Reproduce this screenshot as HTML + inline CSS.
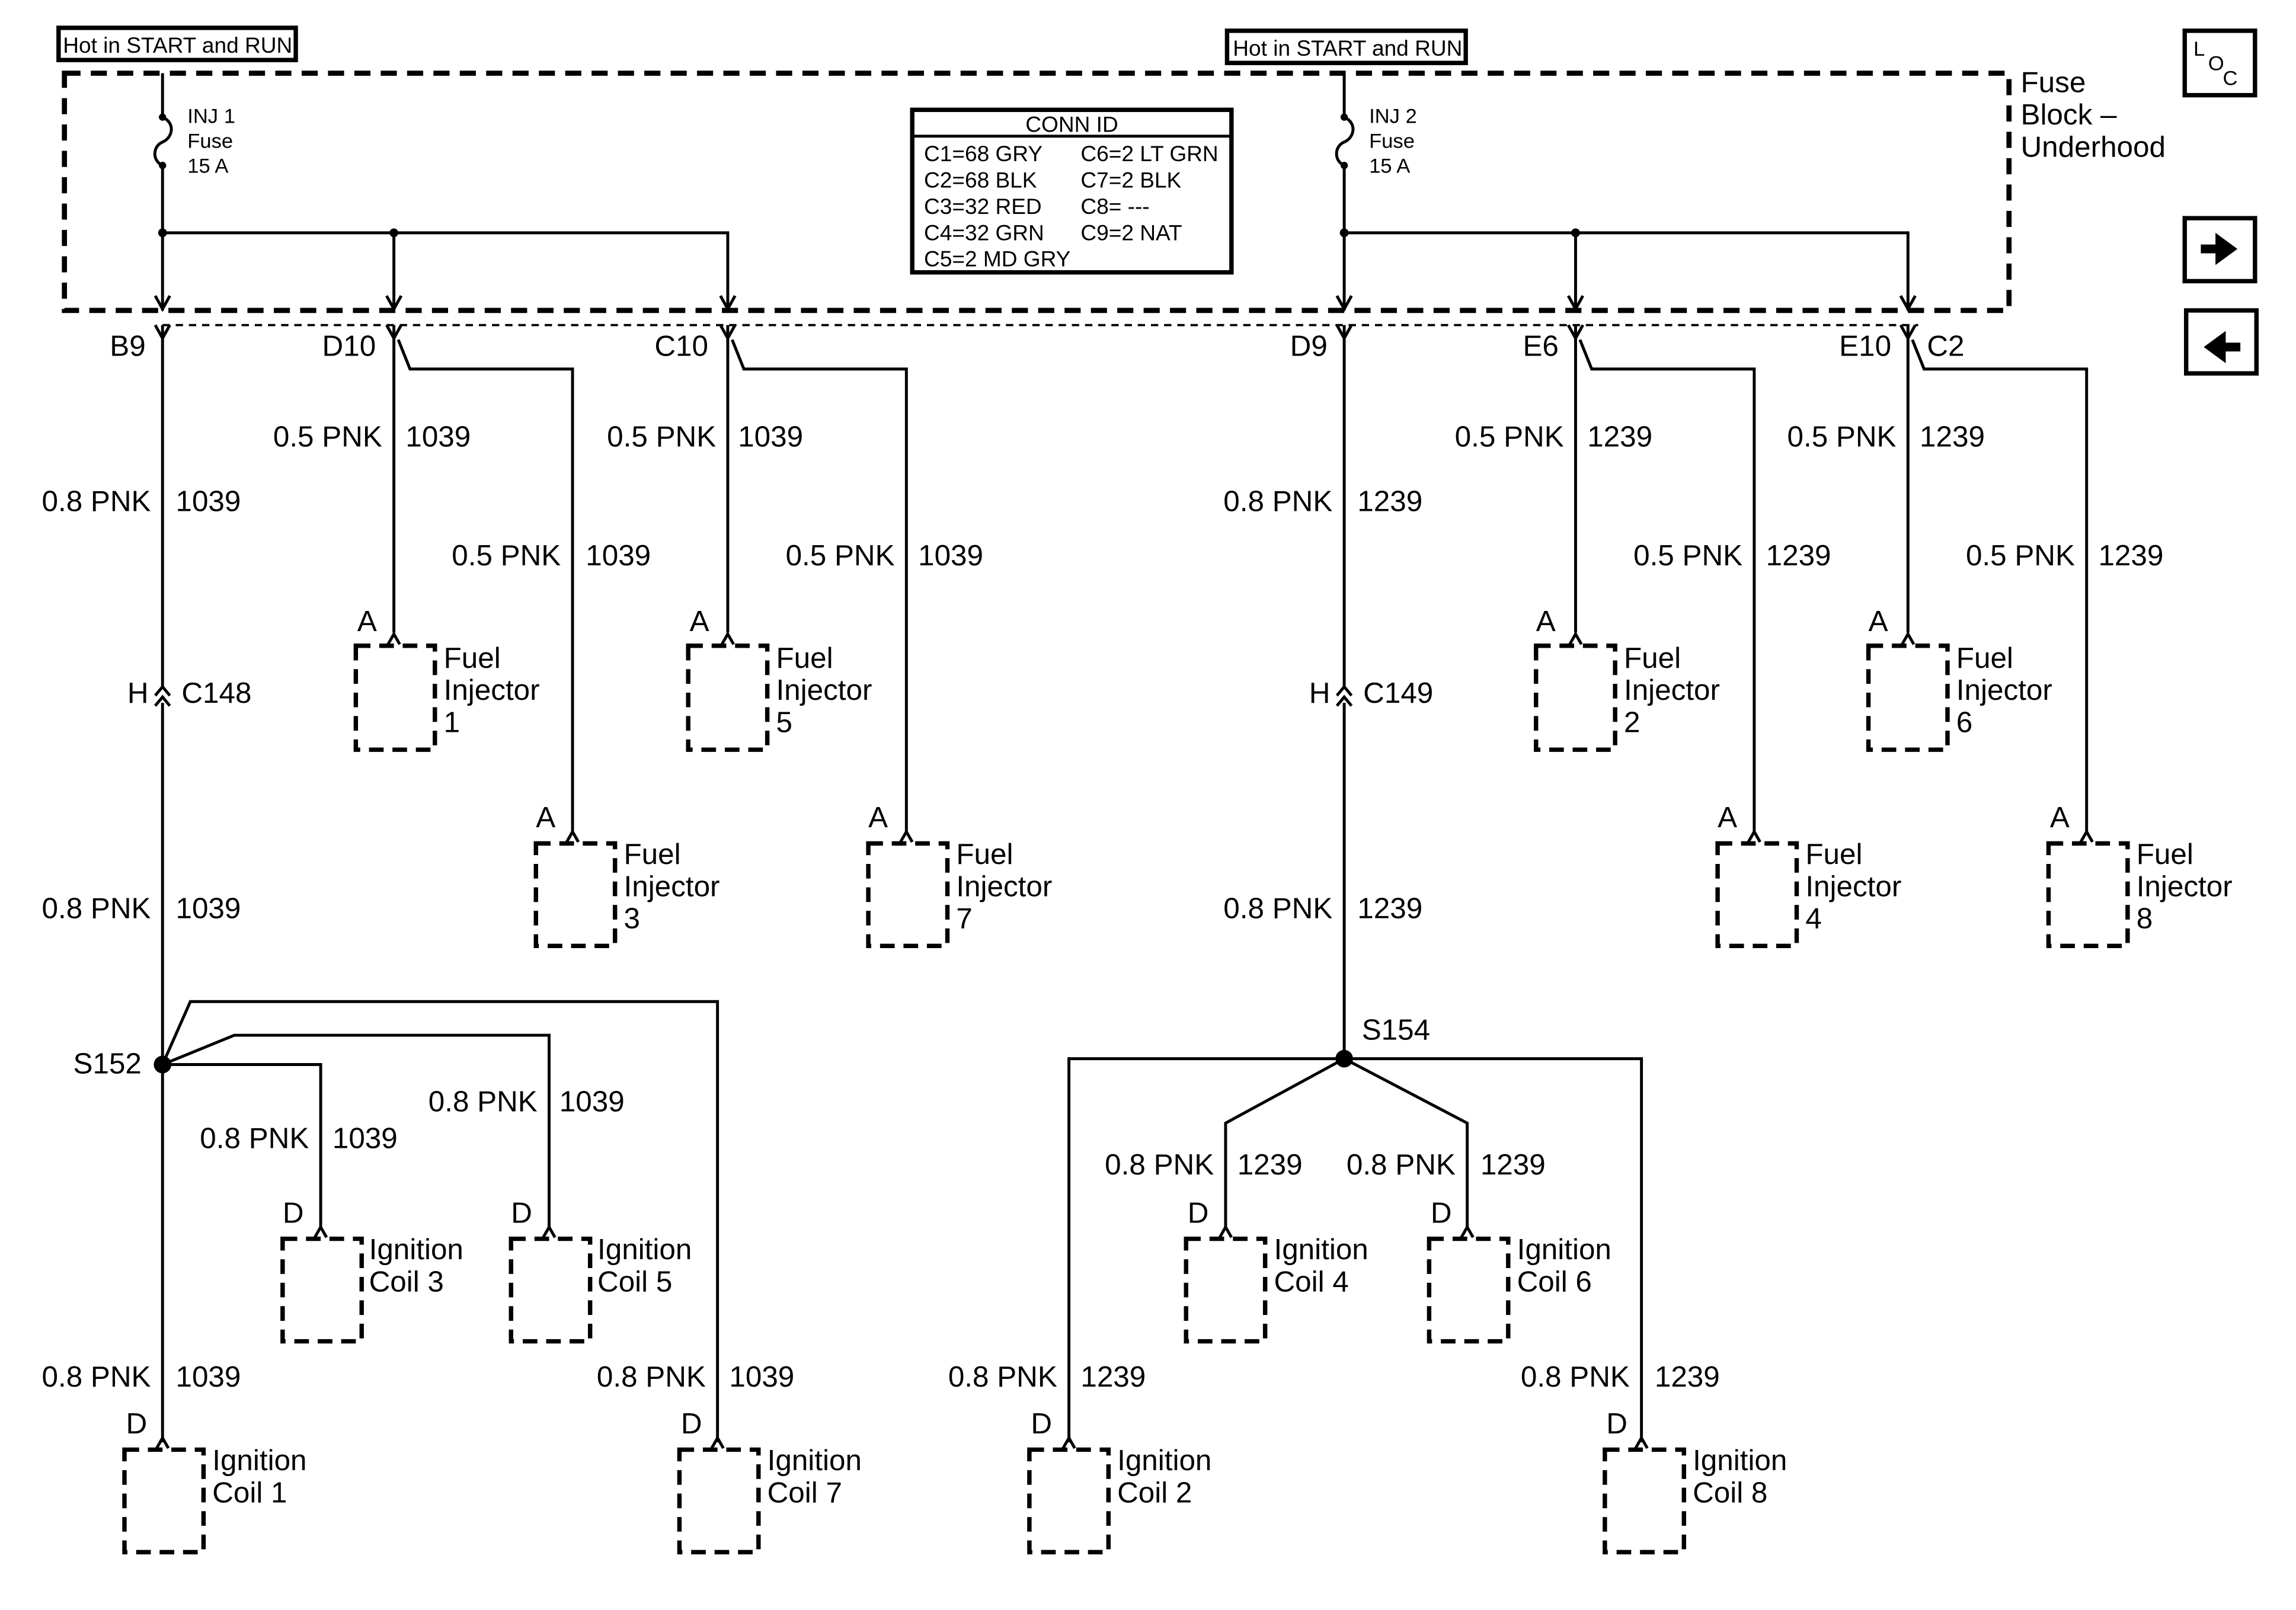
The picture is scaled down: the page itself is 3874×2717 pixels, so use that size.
<!DOCTYPE html>
<html><head><meta charset="utf-8"><style>
html,body{margin:0;padding:0;background:#fff;}
svg{display:block;}
text{font-family:"Liberation Sans",Arial,sans-serif;fill:#000;}
.l{font-size:20px;}
.s{font-size:14px;}
.h{font-size:15px;}
.e{text-anchor:end;}
</style></head><body>
<svg width="3874" height="2717" viewBox="0 0 1568 1099.5" preserveAspectRatio="none" xmlns="http://www.w3.org/2000/svg">
<defs>
<path id="fk" d="M-5,0 L0,9 L5,0" fill="none" stroke="#000" stroke-width="2"/>
<path id="bc" d="M-4,8 L0,1 L4,8" fill="none" stroke="#000" stroke-width="2"/>
<path id="da" d="M-5,-9 L0,0 L5,-9" fill="none" stroke="#000" stroke-width="2"/>
<path id="cc" d="M-5,6 L0,0 L5,6 M-5,13 L0,7 L5,13" fill="none" stroke="#000" stroke-width="2"/>
</defs>
<rect width="1568" height="1100" fill="#fff"/>
<g fill="none" stroke="#000">
<rect x="40" y="19" width="162" height="22" stroke-width="3"/>
<rect x="838" y="21" width="163" height="22" stroke-width="3"/>
<rect x="44" y="50" width="1328" height="162" stroke-width="3.5" stroke-dasharray="11,7"/>
<line x1="111" y1="222" x2="1310" y2="222" stroke-width="1.5" stroke-dasharray="5,4"/>
<rect x="623" y="75" width="218" height="111" stroke-width="3"/>
<line x1="623" y1="93" x2="841" y2="93" stroke-width="2"/>
<rect x="1492" y="21" width="48" height="44" stroke-width="3"/>
<rect x="1492" y="149" width="48" height="43" stroke-width="3"/>
<rect x="1493" y="212" width="48" height="43" stroke-width="3"/>
</g>
<path d="M1503,167 h10 v-8 l15,11 l-15,11 v-8 h-10z" fill="#000"/>
<path d="M1530,234 h-10 v-8 l-15,11 l15,11 v-8 h10z" fill="#000"/>
<text x="1498" y="38" class="s">L</text><text x="1508" y="48" class="s">O</text><text x="1518" y="58" class="s">C</text>

<text x="43" y="36" class="h">Hot in START and RUN</text>
<text x="842" y="38" class="h">Hot in START and RUN</text>
<text x="1380" y="63" class="l">Fuse</text>
<text x="1380" y="85" class="l">Block –</text>
<text x="1380" y="107" class="l">Underhood</text>
<text x="732" y="90" class="h" text-anchor="middle">CONN ID</text>
<text x="631" y="110" class="h">C1=68 GRY</text><text x="738" y="110" class="h">C6=2 LT GRN</text>
<text x="631" y="128" class="h">C2=68 BLK</text><text x="738" y="128" class="h">C7=2 BLK</text>
<text x="631" y="146" class="h">C3=32 RED</text><text x="738" y="146" class="h">C8= ---</text>
<text x="631" y="164" class="h">C4=32 GRN</text><text x="738" y="164" class="h">C9=2 NAT</text>
<text x="631" y="182" class="h">C5=2 MD GRY</text>

<g fill="none" stroke="#000" stroke-width="2">
<path d="M111,50 V80 C120,84 118,94 111,97 C104,100 104,110 111,113 V212"/>
<path d="M111,159 H497 V212 M269,159 V212"/>
<path d="M918,50 V80 C927,84 925,94 918,97 C911,100 911,110 918,113 V212"/>
<path d="M918,159 H1303 V212 M1076,159 V212"/>
<path d="M111,222 V470 M111,480 V727 V985"/>
<path d="M269,222 V432 M272,232 L280,252 H391 V568"/>
<path d="M497,222 V432 M500,232 L508,252 H619 V568"/>
<path d="M111,727 L130,684 H490 V985"/>
<path d="M111,727 L160,707 H375 V840"/>
<path d="M111,727 H219 V840"/>
<path d="M918,222 V470 M918,480 V723"/>
<path d="M1076,222 V432 M1079,232 L1087,252 H1198 V568"/>
<path d="M1303,222 V432 M1306,232 L1314,252 H1425 V568"/>
<path d="M730,985 V723 H1121 V985"/>
<path d="M918,723 L837,767 V840 M918,723 L1002,767 V840"/>
</g>
<g fill="#000">
<circle cx="111" cy="80" r="2.5"/><circle cx="111" cy="113" r="2.5"/>
<circle cx="918" cy="80" r="2.5"/><circle cx="918" cy="113" r="2.5"/>
<circle cx="111" cy="159" r="3"/><circle cx="269" cy="159" r="3"/>
<circle cx="918" cy="159" r="3"/><circle cx="1076" cy="159" r="3"/>
<circle cx="111" cy="727" r="6"/><circle cx="918" cy="723" r="6"/>
</g>
<use href="#da" x="111" y="211"/><use href="#da" x="269" y="211"/><use href="#da" x="497" y="211"/>
<use href="#da" x="918" y="211"/><use href="#da" x="1076" y="211"/><use href="#da" x="1303" y="211"/>
<use href="#fk" x="111" y="222"/><use href="#fk" x="269" y="222"/><use href="#fk" x="497" y="222"/>
<use href="#fk" x="918" y="222"/><use href="#fk" x="1076" y="222"/><use href="#fk" x="1303" y="222"/>
<use href="#cc" x="111" y="469"/><use href="#cc" x="918" y="469"/>
<use href="#bc" x="269" y="432"/><use href="#bc" x="497" y="432"/><use href="#bc" x="1076" y="432"/><use href="#bc" x="1303" y="432"/>
<use href="#bc" x="391" y="567"/><use href="#bc" x="619" y="567"/><use href="#bc" x="1198" y="567"/><use href="#bc" x="1425" y="567"/>
<use href="#bc" x="219" y="837"/><use href="#bc" x="375" y="837"/><use href="#bc" x="837" y="837"/><use href="#bc" x="1002" y="837"/>
<use href="#bc" x="111" y="981"/><use href="#bc" x="490" y="981"/><use href="#bc" x="730" y="981"/><use href="#bc" x="1121" y="981"/>

<g fill="none" stroke="#000" stroke-width="3" stroke-dasharray="10,6">
<rect x="243" y="441" width="54" height="71"/>
<rect x="470" y="441" width="54" height="71"/>
<rect x="1049" y="441" width="54" height="71"/>
<rect x="1276" y="441" width="54" height="71"/>
<rect x="366" y="576" width="54" height="70"/>
<rect x="593" y="576" width="54" height="70"/>
<rect x="1173" y="576" width="54" height="70"/>
<rect x="1399" y="576" width="54" height="70"/>
<rect x="193" y="846" width="54" height="70"/>
<rect x="349" y="846" width="54" height="70"/>
<rect x="810" y="846" width="54" height="70"/>
<rect x="976" y="846" width="54" height="70"/>
<rect x="85" y="990" width="54" height="70"/>
<rect x="464" y="990" width="54" height="70"/>
<rect x="703" y="990" width="54" height="70"/>
<rect x="1096" y="990" width="54" height="70"/>
</g>

<text x="128" y="84" class="s">INJ 1</text><text x="128" y="101" class="s">Fuse</text><text x="128" y="118" class="s">15 A</text>
<text x="935" y="84" class="s">INJ 2</text><text x="935" y="101" class="s">Fuse</text><text x="935" y="118" class="s">15 A</text>

<text x="75" y="243" class="l">B9</text><text x="220" y="243" class="l">D10</text><text x="447" y="243" class="l">C10</text>
<text x="881" y="243" class="l">D9</text><text x="1040" y="243" class="l">E6</text><text x="1256" y="243" class="l">E10</text><text x="1316" y="243" class="l">C2</text>
<text x="87" y="480" class="l">H</text><text x="124" y="480" class="l">C148</text>
<text x="894" y="480" class="l">H</text><text x="931" y="480" class="l">C149</text>
<text x="50" y="733" class="l">S152</text><text x="930" y="710" class="l">S154</text>

<text x="103" y="349" class="l e">0.8 PNK</text><text x="120" y="349" class="l">1039</text>
<text x="103" y="627" class="l e">0.8 PNK</text><text x="120" y="627" class="l">1039</text>
<text x="261" y="305" class="l e">0.5 PNK</text><text x="277" y="305" class="l">1039</text>
<text x="489" y="305" class="l e">0.5 PNK</text><text x="504" y="305" class="l">1039</text>
<text x="383" y="386" class="l e">0.5 PNK</text><text x="400" y="386" class="l">1039</text>
<text x="611" y="386" class="l e">0.5 PNK</text><text x="627" y="386" class="l">1039</text>
<text x="910" y="349" class="l e">0.8 PNK</text><text x="927" y="349" class="l">1239</text>
<text x="910" y="627" class="l e">0.8 PNK</text><text x="927" y="627" class="l">1239</text>
<text x="1068" y="305" class="l e">0.5 PNK</text><text x="1084" y="305" class="l">1239</text>
<text x="1295" y="305" class="l e">0.5 PNK</text><text x="1311" y="305" class="l">1239</text>
<text x="1190" y="386" class="l e">0.5 PNK</text><text x="1206" y="386" class="l">1239</text>
<text x="1417" y="386" class="l e">0.5 PNK</text><text x="1433" y="386" class="l">1239</text>
<text x="211" y="784" class="l e">0.8 PNK</text><text x="227" y="784" class="l">1039</text>
<text x="367" y="759" class="l e">0.8 PNK</text><text x="382" y="759" class="l">1039</text>
<text x="103" y="947" class="l e">0.8 PNK</text><text x="120" y="947" class="l">1039</text>
<text x="482" y="947" class="l e">0.8 PNK</text><text x="498" y="947" class="l">1039</text>
<text x="829" y="802" class="l e">0.8 PNK</text><text x="845" y="802" class="l">1239</text>
<text x="994" y="802" class="l e">0.8 PNK</text><text x="1011" y="802" class="l">1239</text>
<text x="722" y="947" class="l e">0.8 PNK</text><text x="738" y="947" class="l">1239</text>
<text x="1113" y="947" class="l e">0.8 PNK</text><text x="1130" y="947" class="l">1239</text>

<text x="244" y="431" class="l">A</text><text x="471" y="431" class="l">A</text><text x="1049" y="431" class="l">A</text><text x="1276" y="431" class="l">A</text>
<text x="366" y="565" class="l">A</text><text x="593" y="565" class="l">A</text><text x="1173" y="565" class="l">A</text><text x="1400" y="565" class="l">A</text>
<text x="193" y="835" class="l">D</text><text x="349" y="835" class="l">D</text><text x="811" y="835" class="l">D</text><text x="977" y="835" class="l">D</text>
<text x="86" y="979" class="l">D</text><text x="465" y="979" class="l">D</text><text x="704" y="979" class="l">D</text><text x="1097" y="979" class="l">D</text>

<text x="303" y="456" class="l">Fuel</text><text x="303" y="478" class="l">Injector</text><text x="303" y="500" class="l">1</text>
<text x="530" y="456" class="l">Fuel</text><text x="530" y="478" class="l">Injector</text><text x="530" y="500" class="l">5</text>
<text x="1109" y="456" class="l">Fuel</text><text x="1109" y="478" class="l">Injector</text><text x="1109" y="500" class="l">2</text>
<text x="1336" y="456" class="l">Fuel</text><text x="1336" y="478" class="l">Injector</text><text x="1336" y="500" class="l">6</text>
<text x="426" y="590" class="l">Fuel</text><text x="426" y="612" class="l">Injector</text><text x="426" y="634" class="l">3</text>
<text x="653" y="590" class="l">Fuel</text><text x="653" y="612" class="l">Injector</text><text x="653" y="634" class="l">7</text>
<text x="1233" y="590" class="l">Fuel</text><text x="1233" y="612" class="l">Injector</text><text x="1233" y="634" class="l">4</text>
<text x="1459" y="590" class="l">Fuel</text><text x="1459" y="612" class="l">Injector</text><text x="1459" y="634" class="l">8</text>
<text x="252" y="860" class="l">Ignition</text><text x="252" y="882" class="l">Coil 3</text>
<text x="408" y="860" class="l">Ignition</text><text x="408" y="882" class="l">Coil 5</text>
<text x="870" y="860" class="l">Ignition</text><text x="870" y="882" class="l">Coil 4</text>
<text x="1036" y="860" class="l">Ignition</text><text x="1036" y="882" class="l">Coil 6</text>
<text x="145" y="1004" class="l">Ignition</text><text x="145" y="1026" class="l">Coil 1</text>
<text x="524" y="1004" class="l">Ignition</text><text x="524" y="1026" class="l">Coil 7</text>
<text x="763" y="1004" class="l">Ignition</text><text x="763" y="1026" class="l">Coil 2</text>
<text x="1156" y="1004" class="l">Ignition</text><text x="1156" y="1026" class="l">Coil 8</text>
</svg>
</body></html>
